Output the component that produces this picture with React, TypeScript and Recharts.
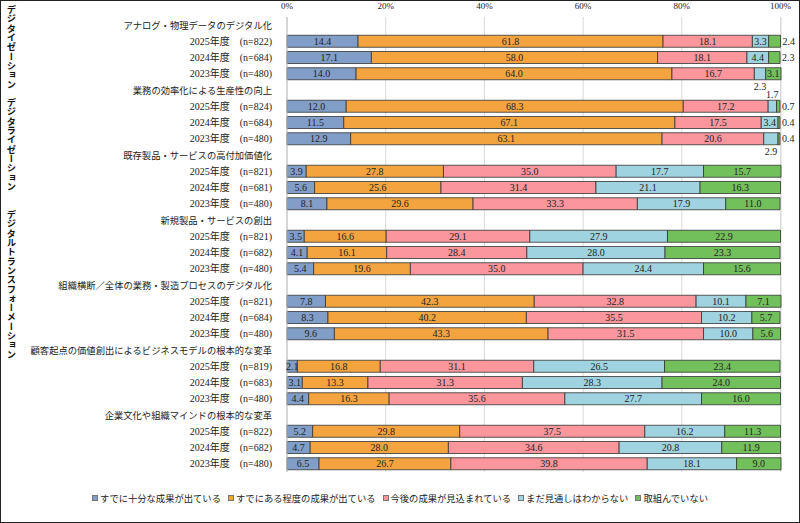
import { BarChart, Bar, XAxis, YAxis, CartesianGrid, LabelList } from 'recharts';

const CATEGORIES = [
  'アナログ・物理データのデジタル化',
  '業務の効率化による生産性の向上',
  '既存製品・サービスの高付加価値化',
  '新規製品・サービスの創出',
  '組織横断／全体の業務・製造プロセスのデジタル化',
  '顧客起点の価値創出によるビジネスモデルの根本的な変革',
  '企業文化や組織マインドの根本的な変革',
];
const YEARS = ['2025年度', '2024年度', '2023年度'];
const SAMPLE_N = [
  [822, 684, 480],
  [824, 684, 480],
  [821, 681, 480],
  [821, 682, 480],
  [821, 684, 480],
  [819, 683, 480],
  [822, 682, 480],
];

const SERIES = [
  'すでに十分な成果が出ている',
  'すでにある程度の成果が出ている',
  '今後の成果が見込まれている',
  'まだ見通しはわからない',
  '取組んでいない',
];
const COLORS = ['#819ec8', '#f4a43f', '#fa969c', '#9fd3df', '#72c05c'];

// 各系列の値（カテゴリごとに 2025, 2024, 2023 の順）
const FULL = [14.4, 17.1, 14.0, 12.0, 11.5, 12.9, 3.9, 5.6, 8.1, 3.5, 4.1, 5.4, 7.8, 8.3, 9.6, 2.1, 3.1, 4.4, 5.2, 4.7, 6.5];
const PARTIAL = [61.8, 58.0, 64.0, 68.3, 67.1, 63.1, 27.8, 25.6, 29.6, 16.6, 16.1, 19.6, 42.3, 40.2, 43.3, 16.8, 13.3, 16.3, 29.8, 28.0, 26.7];
const EXPECTED = [18.1, 18.1, 16.7, 17.2, 17.5, 20.6, 35.0, 31.4, 33.3, 29.1, 28.4, 35.0, 32.8, 35.5, 31.5, 31.1, 31.3, 35.6, 37.5, 34.6, 39.8];
const UNKNOWN = [3.3, 4.4, 2.3, 1.7, 3.4, 2.9, 17.7, 21.1, 17.9, 27.9, 28.0, 24.4, 10.1, 10.2, 10.0, 26.5, 28.3, 27.7, 16.2, 20.8, 18.1];
const NONE = [2.4, 2.3, 3.1, 0.7, 0.4, 0.4, 15.7, 16.3, 11.0, 22.9, 23.3, 15.6, 7.1, 5.7, 5.6, 23.4, 24.0, 16.0, 11.3, 11.9, 9.0];
const VALUES = [FULL, PARTIAL, EXPECTED, UNKNOWN, NONE];

const X_TICKS = [0, 20, 40, 60, 80, 100];

const FONT = "'Liberation Serif', 'Noto Sans CJK JP', serif";
const KEYS = ['s0', 's1', 's2', 's3', 's4'];

const data: any[] = [];
CATEGORIES.forEach((cat, c) => {
  data.push({ key: `h${c}`, label: cat, header: true });
  YEARS.forEach((year, y) => {
    const row: any = { key: `r${c}-${y}`, label: `${year}　(n=${SAMPLE_N[c][y]})`, header: false };
    VALUES.forEach((arr, s) => {
      row[KEYS[s]] = arr[c * 3 + y];
    });
    data.push(row);
  });
});

function CategoryTick(props: any) {
  const { x, y, payload, index } = props;
  const row = data[index] || data.find((d) => d.key === payload.value);
  return (
    <text x={x - 7} y={y} dy={3.5} textAnchor="end" fontSize={row?.header ? 9.3 : 10} fill="#222" fontFamily={FONT}>
      {row?.label}
    </text>
  );
}

function makeLabel(series: number) {
  return (props: any) => {
    const { x, y, width, height, value } = props;
    if (value == null) return null;
    const text = Number(value).toFixed(1);
    const cx = x + width / 2;
    const cy = y + height / 2;
    let tx = cx;
    let ty = cy + 3.5;
    let anchor: 'middle' | 'start' = 'middle';
    if (series === 4 && value < 3) {
      tx = x + width + 2;
      anchor = 'start';
    } else if (series === 3 && value < 2) {
      ty = y - 2;
    } else if (series === 3 && value < 3) {
      ty = y + height + 10;
    }
    return (
      <text x={tx} y={ty} textAnchor={anchor} fontSize={10} fill="#222" fontFamily={FONT}>
        {text}
      </text>
    );
  };
}

function Legend() {
  return (
    <div
      style={{
        position: 'absolute',
        left: 0,
        top: 490,
        width: 798,
        display: 'flex',
        justifyContent: 'center',
        gap: 7,
        fontSize: 9.3,
        fontFamily: FONT,
        color: '#222',
      }}
    >
      {SERIES.map((name, i) => (
        <span key={name} style={{ display: 'flex', alignItems: 'center' }}>
          <span
            style={{
              display: 'inline-block',
              width: 4,
              height: 4,
              background: COLORS[i],
              border: '1px solid #777',
              marginRight: 2,
            }}
          />
          {name}
        </span>
      ))}
    </div>
  );
}

const vertical: any = {
  position: 'absolute',
  left: 5,
  writingMode: 'vertical-rl',
  textOrientation: 'upright',
  fontFamily: "'Noto Sans CJK JP', sans-serif",
  fontWeight: 'bold',
  fontSize: 9.3,
  lineHeight: 1,
  color: '#111',
};

export default function App() {
  return (
    <div
      style={{
        position: 'absolute',
        left: 0,
        top: 0,
        width: 800,
        height: 523,
        boxSizing: 'border-box',
        border: '1px solid #222',
        background: '#fff',
        overflow: 'hidden',
      }}
    >
      <div style={{ ...vertical, top: 4 }}>デジタイゼーション デジタライゼーション</div>
      <div style={{ ...vertical, top: 209 }}>デジタルトランスフォーメーション</div>
      <div style={{ position: 'absolute', left: -1, top: -1 }}>
        <BarChart
          width={800}
          height={523}
          data={data}
          layout="vertical"
          margin={{ top: 0, right: 19, bottom: 51, left: 0 }}
          barCategoryGap={2}
        >
          <CartesianGrid horizontal={false} stroke="#d9d9d9" />
          <XAxis
            type="number"
            orientation="top"
            domain={[0, 100]}
            ticks={X_TICKS}
            tickFormatter={(v) => `${v}%`}
            axisLine={false}
            tickLine={false}
            height={17}
            tick={{ fontSize: 9, fill: '#222', fontFamily: FONT }}
          />
          <YAxis
            type="category"
            dataKey="key"
            width={287}
            interval={0}
            axisLine={{ stroke: '#bfbfbf' }}
            tickLine={false}
            tick={<CategoryTick />}
          />
          {KEYS.map((k, i) => (
            <Bar
              key={k}
              dataKey={k}
              stackId="a"
              fill={COLORS[i]}
              stroke="#333"
              strokeWidth={0.8}
              barSize={12}
              isAnimationActive={false}
            >
              <LabelList dataKey={k} content={makeLabel(i)} />
            </Bar>
          ))}
        </BarChart>
      </div>
      <Legend />
    </div>
  );
}
